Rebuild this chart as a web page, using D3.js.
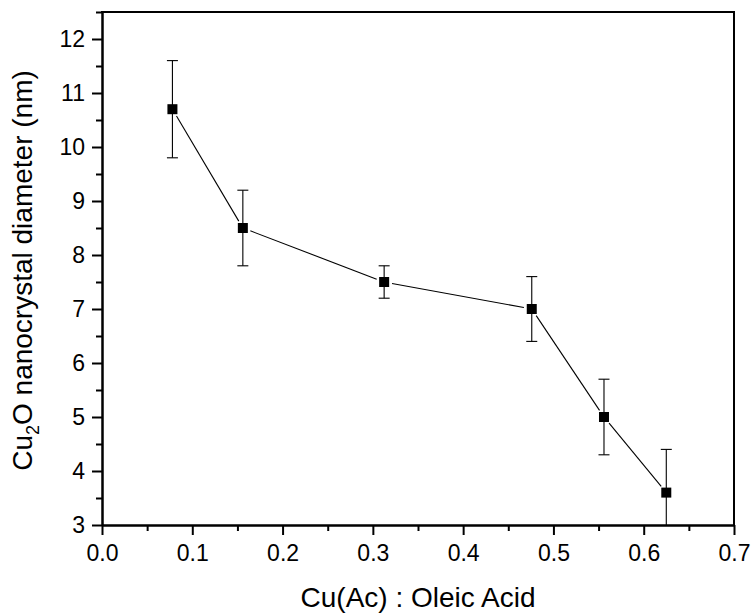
<!DOCTYPE html>
<html>
<head>
<meta charset="utf-8">
<script src="https://cdn.jsdelivr.net/npm/d3@7"></script>
<style>
  html, body { margin: 0; padding: 0; background: #fff; }
  svg { display: block; }
  text { font-family: "Liberation Sans", Arial, Helvetica, sans-serif; fill: #000; }
</style>
</head>
<body>
<svg id="chart" width="754" height="616"></svg>
<script>
// Data
const ratios = [0.078, 0.156, 0.3125, 0.476, 0.556, 0.625];
const diameters = [10.7, 8.5, 7.5, 7.0, 5.0, 3.6];
const errors = [0.9, 0.7, 0.3, 0.6, 0.7, 0.8];
const xTickValues = [0, 0.1, 0.2, 0.3, 0.4, 0.5, 0.6, 0.7];
const xMinorTicks = [0.05, 0.15, 0.25, 0.35, 0.45, 0.55, 0.65];
const yTickValues = [3, 4, 5, 6, 7, 8, 9, 10, 11, 12];
const yMinorTicks = [3.5, 4.5, 5.5, 6.5, 7.5, 8.5, 9.5, 10.5, 11.5, 12.5];

const pLeft = 102, pRight = 734, pTop = 12, pBottom = 525;
const svg = d3.select("#chart");

const x = d3.scaleLinear().domain([0, 0.7]).range([pLeft, pRight]);
const y = d3.scaleLinear().domain([3, 12.5]).range([pBottom, pTop]);

// clip
svg.append("clipPath").attr("id", "clip")
  .append("rect").attr("x", pLeft).attr("y", pTop).attr("width", pRight - pLeft).attr("height", pBottom - pTop);

const plot = svg.append("g").attr("clip-path", "url(#clip)");

// connecting line segments with gaps at symbols
const gap = 8;
const pts = ratios.map((r, i) => [x(r), y(diameters[i])]);
for (let i = 0; i < pts.length - 1; i++) {
  const [x1, y1] = pts[i], [x2, y2] = pts[i + 1];
  const dx = x2 - x1, dy = y2 - y1, len = Math.hypot(dx, dy);
  const ux = dx / len, uy = dy / len;
  plot.append("line")
    .attr("x1", x1 + ux * gap).attr("y1", y1 + uy * gap)
    .attr("x2", x2 - ux * gap).attr("y2", y2 - uy * gap)
    .attr("stroke", "#000").attr("stroke-width", 1.1);
}

// error bars
const cap = 5.5;
ratios.forEach((r, i) => {
  const cx = x(r), yt = y(diameters[i] + errors[i]), yb = y(diameters[i] - errors[i]);
  const g = plot.append("g").attr("stroke", "#000").attr("stroke-width", 1.1);
  g.append("line").attr("x1", cx).attr("x2", cx).attr("y1", yt).attr("y2", yb);
  g.append("line").attr("x1", cx - cap).attr("x2", cx + cap).attr("y1", yt).attr("y2", yt);
  g.append("line").attr("x1", cx - cap).attr("x2", cx + cap).attr("y1", yb).attr("y2", yb);
});

// markers
const ms = 10;
plot.selectAll("rect.pt").data(ratios).enter().append("rect")
  .attr("class", "pt")
  .attr("x", d => x(d) - ms / 2)
  .attr("y", (d, i) => y(diameters[i]) - ms / 2)
  .attr("width", ms).attr("height", ms)
  .attr("fill", "#000");

// axes
const fmtX = d3.format(".1f");
const xAxis = svg.append("g").attr("transform", `translate(0,${pBottom})`)
  .call(d3.axisBottom(x).tickValues(xTickValues).tickFormat(fmtX).tickSize(10).tickSizeOuter(0).tickPadding(10));
const xMinor = svg.append("g").attr("transform", `translate(0,${pBottom})`)
  .call(d3.axisBottom(x).tickValues(xMinorTicks).tickFormat("").tickSize(6).tickSizeOuter(0));
const yAxis = svg.append("g").attr("transform", `translate(${pLeft},0)`)
  .call(d3.axisLeft(y).tickValues(yTickValues).tickFormat(d3.format("d")).tickSize(10).tickSizeOuter(0).tickPadding(7));
const yMinor = svg.append("g").attr("transform", `translate(${pLeft},0)`)
  .call(d3.axisLeft(y).tickValues(yMinorTicks).tickFormat("").tickSize(6).tickSizeOuter(0));

[xAxis, xMinor, yAxis, yMinor].forEach(a => {
  a.selectAll("path.domain").attr("stroke", "#000").attr("stroke-width", 2);
  a.selectAll(".tick line").attr("stroke", "#000").attr("stroke-width", 2);
  a.selectAll(".tick text").attr("font-size", 23).attr("font-family", "'Liberation Sans', Arial, sans-serif").attr("fill", "#000");
});

// frame (top and right)
svg.append("line").attr("x1", pLeft - 1).attr("x2", pRight + 1).attr("y1", pTop).attr("y2", pTop)
  .attr("stroke", "#000").attr("stroke-width", 2);
svg.append("line").attr("x1", pRight).attr("x2", pRight).attr("y1", pTop).attr("y2", pBottom)
  .attr("stroke", "#000").attr("stroke-width", 2);

// axis titles
svg.append("text")
  .attr("x", (pLeft + pRight) / 2).attr("y", 607)
  .attr("text-anchor", "middle").attr("font-size", 28)
  .text("Cu(Ac) : Oleic Acid");

const ytitle = svg.append("text")
  .attr("transform", `translate(32,${(pTop + pBottom) / 2 + 2}) rotate(-90)`)
  .attr("text-anchor", "middle").attr("font-size", 28);
ytitle.append("tspan").text("Cu");
ytitle.append("tspan").attr("font-size", 18).attr("dy", 7).text("2");
ytitle.append("tspan").attr("dy", -7).text("O nanocrystal diameter (nm)");
</script>
</body>
</html>
